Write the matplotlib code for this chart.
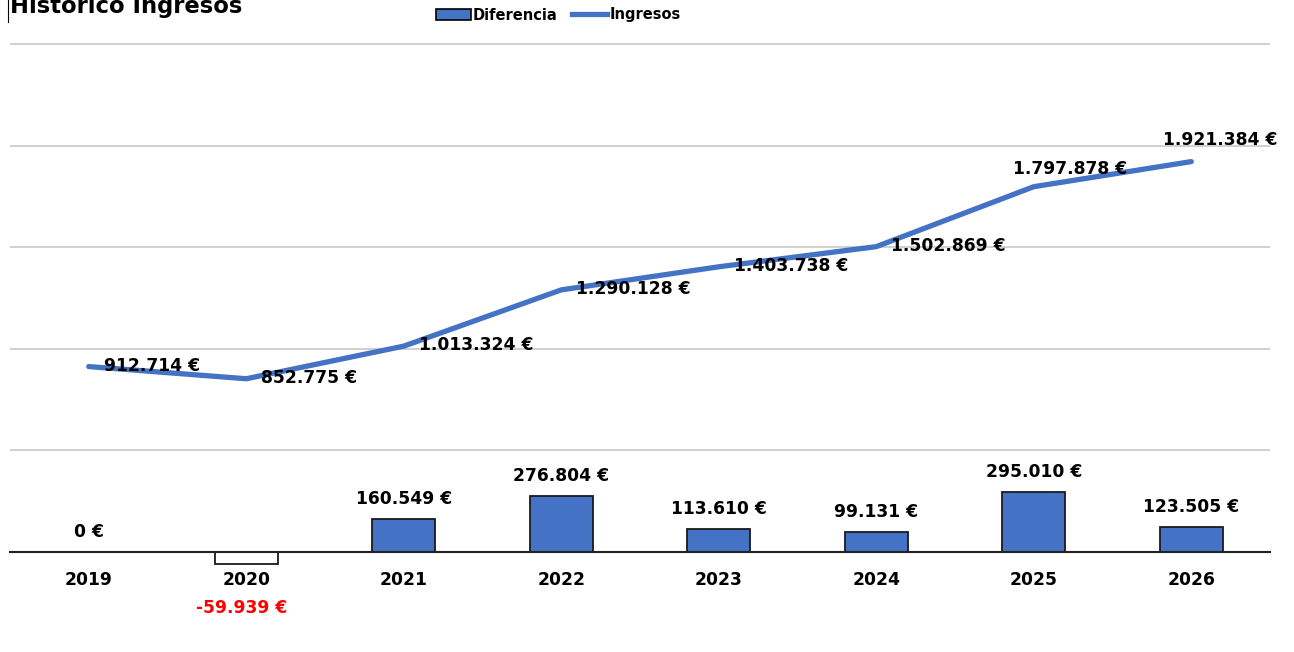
import matplotlib.pyplot as plt
from matplotlib.lines import Line2D
from matplotlib.patches import Patch

years = ["2019", "2020", "2021", "2022", "2023", "2024", "2025", "2026"]
ingresos = [912714, 852775, 1013324, 1290128, 1403738, 1502869, 1797878, 1921384]
diferencia = [0, -59939, 160549, 276804, 113610, 99131, 295010, 123505]

BLUE = "#4472C4"
plt.rcParams["font.family"] = ["DejaVu Sans"]
FS = 12.3


def eur(v):
    # spanish thousands separator
    return f"{v:,}".replace(",", ".") + " €"


fig = plt.figure(figsize=(12.94, 6.52), dpi=100)
ax = fig.add_axes([10 / 1294, 0.0598, 1260 / 1294, 0.8758])

x = list(range(len(years)))
colors = [BLUE if d >= 0 else "white" for d in diferencia]
ax.bar(x, diferencia, width=0.4, color=colors, edgecolor="#1a1a1a", linewidth=1.3, zorder=3)
ax.plot(x, ingresos, color=BLUE, linewidth=3.8, solid_capstyle="round",
        solid_joinstyle="round", zorder=4)

# bar labels
for i, d in enumerate(diferencia):
    if d >= 0:
        ax.annotate(eur(d), (i, d), xytext=(0, 20), textcoords="offset pixels",
                    ha="center", va="center", fontsize=FS, fontweight="bold",
                    color="black", zorder=6)
    else:
        ax.annotate(eur(d), (i, d), xytext=(-5, -44), textcoords="offset pixels",
                    ha="center", va="center", fontsize=FS, fontweight="bold",
                    color="red", zorder=6)

# line labels
offs = {6: (-21, -18), 7: (-28, -22)}
for i, v in enumerate(ingresos):
    dx, dy = offs.get(i, (15, -1))
    ax.annotate(eur(v), (i, v), xytext=(dx, -dy), textcoords="offset pixels",
                ha="left", va="center", fontsize=FS, fontweight="bold",
                color="black", zorder=6)

ax.set_xlim(-0.5, len(years) - 0.5)
ax.set_ylim(-300000, 2510000)
ax.set_yticks([500000, 1000000, 1500000, 2000000, 2500000])
ax.set_yticklabels([])
ax.yaxis.grid(True, color="#c4c4c4", linewidth=1.1)
ax.set_axisbelow(True)
ax.tick_params(axis="y", length=0)

for s in ["top", "left", "right"]:
    ax.spines[s].set_visible(False)
ax.spines["bottom"].set_position(("data", 0))
ax.spines["bottom"].set_linewidth(1.5)
ax.spines["bottom"].set_color("#222222")
ax.spines["bottom"].set_zorder(5)

ax.set_xticks(x)
ax.set_xticklabels(years, fontsize=FS, fontweight="bold")
ax.tick_params(axis="x", length=0, pad=14)

fig.text(10 / 1294, 1 - 13 / 652, "Histórico Ingresos", fontsize=16.3,
         fontweight="bold", va="baseline", ha="left")
fig.add_artist(Line2D([8 / 1294, 8 / 1294], [1, 1 - 22 / 652], color="black", linewidth=0.8))

handles = [Patch(facecolor=BLUE, edgecolor="black", linewidth=1.2, label="Diferencia"),
           Line2D([], [], color=BLUE, linewidth=3.8, label="Ingresos")]
fig.legend(handles=handles, loc="center", bbox_to_anchor=(558 / 1294, 1 - 15 / 652),
           ncol=2, frameon=False, handlelength=2.4, handletextpad=0.15,
           columnspacing=1.0, prop={"weight": "bold", "size": 10.5})

fig.savefig("out.png", dpi=100)
